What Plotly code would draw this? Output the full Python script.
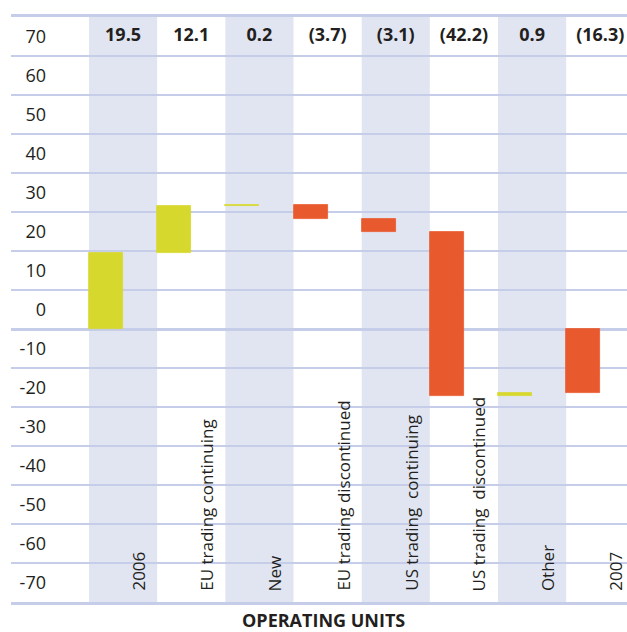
import plotly.graph_objects as go

# ---- data ----
categories = ["2006", "EU trading continuing", "New", "EU trading discontinued",
              "US trading  continuing", "US trading  discontinued", "Other", "2007"]
values = [19.5, 12.1, 0.2, -3.7, -3.1, -42.2, 0.9, -16.3]
value_labels = ["19.5", "12.1", "0.2", "(3.7)", "(3.1)", "(42.2)", "0.9", "(16.3)"]
measures = ["absolute", "relative", "relative", "relative", "relative", "relative", "relative", "total"]
y_tick_values = list(range(70, -71, -10))

# ---- styles ----
YELLOW = "#D7D82E"
ORANGE = "#E85A2E"
BAND = "#E1E5F2"
GRID = "#C5CDE8"
TEXT = "#231F20"
FONT = "Open Sans"

W, H = 627, 632

# waterfall geometry from data
bases, heights, colors = [], [], []
running = 0.0
for v, m in zip(values, measures):
    if m == "absolute":
        bases.append(0.0); heights.append(v); running = v
    elif m == "relative":
        bases.append(running); heights.append(v); running += v
    else:
        bases.append(0.0); heights.append(running)
    colors.append(YELLOW if v >= 0 else ORANGE)

xs = list(range(len(categories)))

fig = go.Figure()
fig.add_trace(go.Bar(
    x=xs, y=heights, base=bases, offset=-0.5, width=0.5,
    marker=dict(color=colors, line=dict(color=colors, width=0.8)),
    hoverinfo="skip", showlegend=False,
))
fig.add_trace(go.Scatter(
    x=xs, y=[75] * len(xs), mode="text", text=value_labels,
    textposition="middle center",
    textfont=dict(family=FONT, size=18, color=TEXT, weight="bold"),
    hoverinfo="skip", showlegend=False,
))

shapes = []
for i in xs:
    if i % 2 == 0:
        shapes.append(dict(type="rect", xref="x", yref="y", x0=i - 0.5, x1=i + 0.5,
                           y0=-70, y1=80, fillcolor=BAND, line=dict(width=0), layer="below"))

annotations = []
for i, c in zip(xs, categories):
    annotations.append(dict(x=i + 0.22, y=-70, xref="x", yref="y", text=c, showarrow=False,
                            textangle=-90, xanchor="center", yanchor="bottom", yshift=9,
                            font=dict(family=FONT, size=17, color=TEXT)))
annotations.append(dict(x=323 / W, y=(H - 620) / H, xref="paper", yref="paper",
                        text="OPERATING UNITS", showarrow=False, xanchor="center", yanchor="middle",
                        borderpad=0,
                        font=dict(family=FONT, size=18, color=TEXT, weight="bold")))

col_w = 68.17
x_left = -0.5 - (89 - 11) / col_w
x_right = -0.5 + (627 - 89) / col_w

fig.update_layout(
    template="none",
    width=W, height=H,
    margin=dict(l=0, r=0, t=0, b=0, pad=0),
    paper_bgcolor="white", plot_bgcolor="white",
    bargap=0,
    shapes=shapes,
    annotations=annotations,
    xaxis=dict(range=[x_left, x_right], domain=[11 / W, 1], showticklabels=False,
               showgrid=False, zeroline=False, ticks="",
               showline=True, mirror=True, linecolor=GRID, linewidth=3, automargin=False),
    yaxis=dict(range=[-70, 80], domain=[(H - 602) / H, (H - 17) / H],
               tickmode="array", tickvals=[k + 5 for k in y_tick_values],
               ticktext=[str(k) for k in y_tick_values],
               tickfont=dict(family=FONT, size=18, color=TEXT),
               ticks="", showgrid=False, showline=False,
               ticklabelposition="outside", ticklabelstandoff=-36,
               zeroline=True, zerolinecolor=GRID, zerolinewidth=3,
               minor=dict(tickmode="array", tickvals=list(range(-70, 81, 10)),
                          showgrid=True, gridcolor=GRID, gridwidth=1.5, ticks=""),
               automargin=False),
)

fig.write_html("out.html")
